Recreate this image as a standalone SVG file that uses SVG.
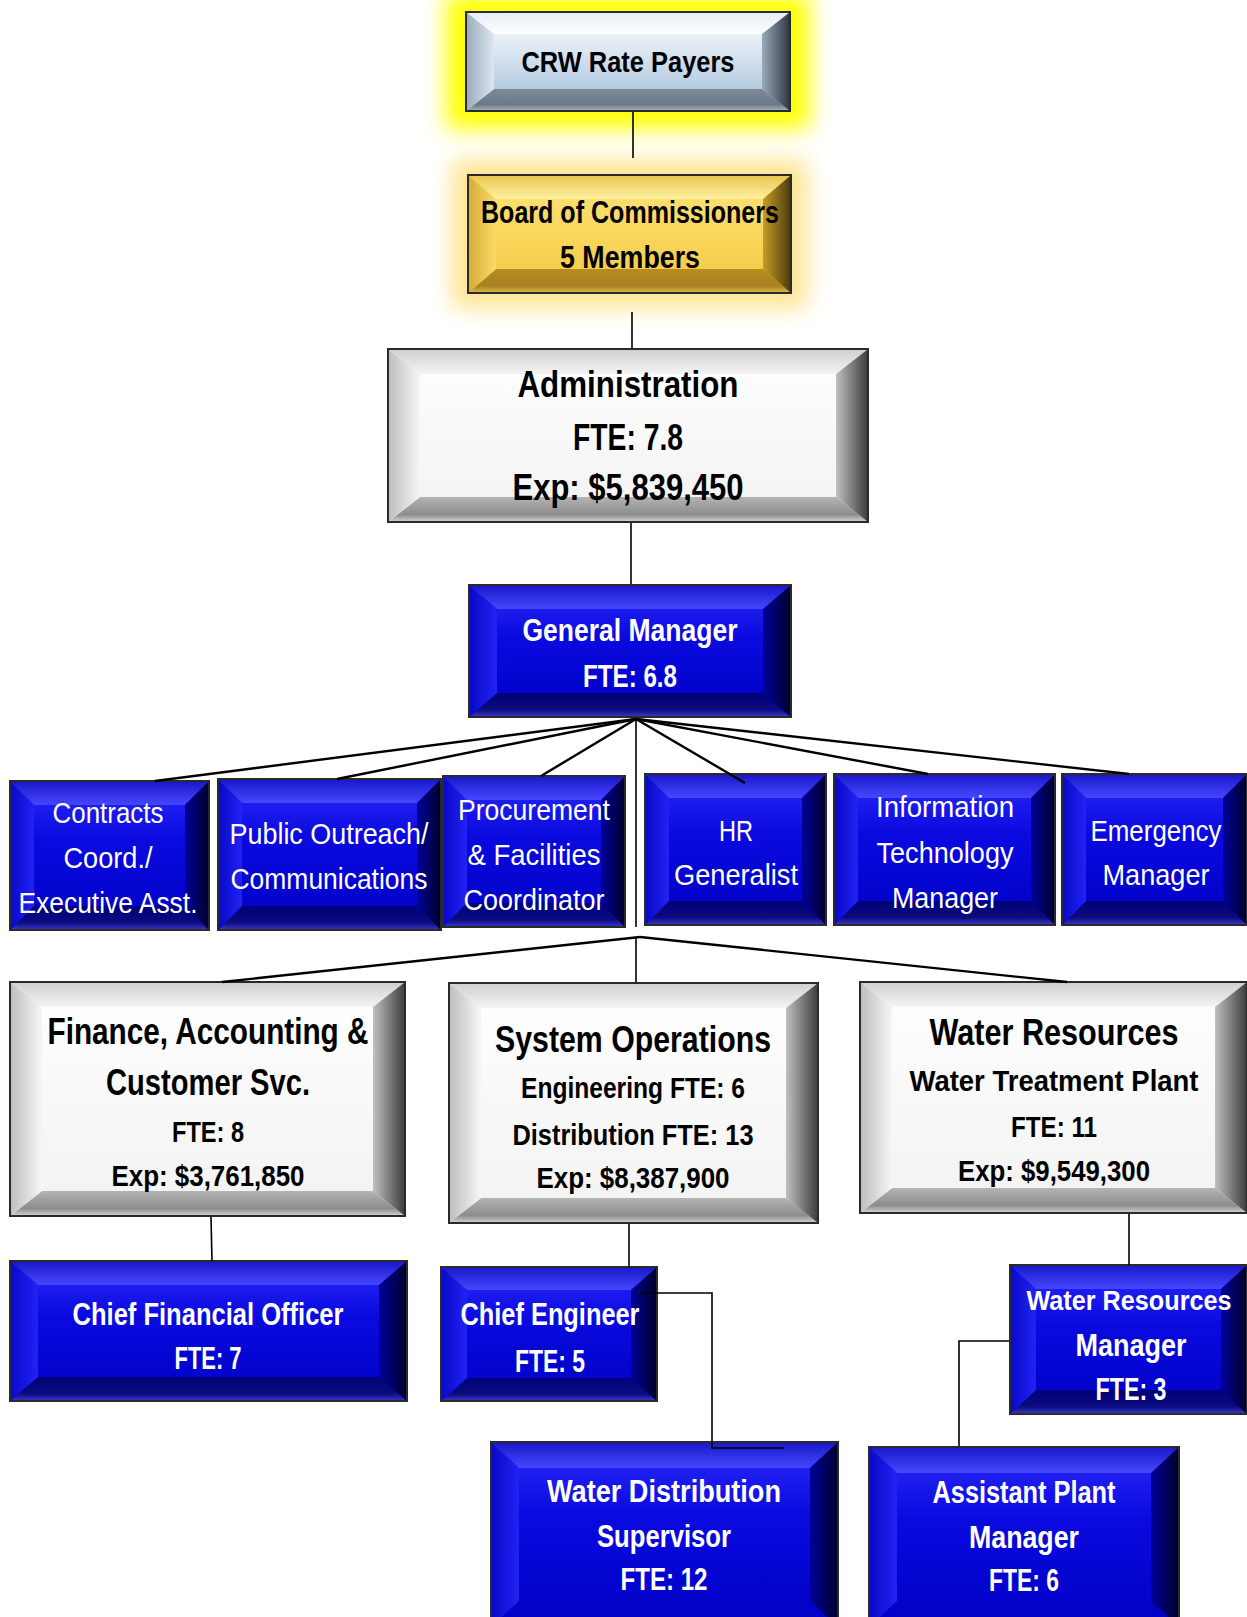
<svg xmlns="http://www.w3.org/2000/svg" width="1247" height="1617" viewBox="0 0 1247 1617">
<defs>
<style>
.t{font-family:"Liberation Sans",Arial,sans-serif;text-anchor:middle}
.b{font-weight:bold}
.w{fill:#fff}
.k{fill:#000}
.ol{stroke:#2a2a2a;stroke-width:2}
.ln{stroke:#000;stroke-width:1.6;fill:none}
.fan{stroke:#000;stroke-width:2.4;fill:none}
.bf{fill:url(#bFace)} .bt{fill:url(#bTop)} .bl{fill:url(#bLeft)} .br{fill:url(#bRight)} .bb{fill:url(#bBot)}
.gf{fill:url(#gFace)} .gt{fill:url(#gTop)} .gl{fill:url(#gLeft)} .gr{fill:url(#gRight)} .gb{fill:url(#gBot)}
.cf{fill:url(#cFace)} .ct{fill:url(#cTop)} .cl{fill:url(#cLeft)} .cr{fill:url(#cRight)} .cb{fill:url(#cBot)}
.yf{fill:url(#yFace)} .yt{fill:url(#yTop)} .yl{fill:url(#yLeft)} .yr{fill:url(#yRight)} .yb{fill:url(#yBot)}
</style>
<filter id="glow" x="-40%" y="-80%" width="180%" height="260%"><feGaussianBlur stdDeviation="11"/></filter>
<linearGradient id="bFace" x1="0" y1="0" x2="0" y2="1"><stop offset="0" stop-color="#2a2af8"/><stop offset="0.4" stop-color="#0a0ae0"/><stop offset="1" stop-color="#0000c4"/></linearGradient>
<linearGradient id="bTop" x1="0" y1="0" x2="0" y2="1"><stop offset="0" stop-color="#1818c8"/><stop offset="1" stop-color="#4646ff"/></linearGradient>
<linearGradient id="bLeft" x1="0" y1="0" x2="1" y2="0"><stop offset="0" stop-color="#0808c8"/><stop offset="1" stop-color="#2222f4"/></linearGradient>
<linearGradient id="bRight" x1="0" y1="0" x2="1" y2="0"><stop offset="0" stop-color="#00009a"/><stop offset="1" stop-color="#00002a"/></linearGradient>
<linearGradient id="bBot" x1="0" y1="0" x2="0" y2="1"><stop offset="0" stop-color="#000078"/><stop offset="0.7" stop-color="#0c0c80"/><stop offset="1" stop-color="#3a3ac8"/></linearGradient>
<linearGradient id="gFace" x1="0" y1="0" x2="0" y2="1"><stop offset="0" stop-color="#ffffff"/><stop offset="1" stop-color="#f2f2f2"/></linearGradient>
<linearGradient id="gTop" x1="0" y1="0" x2="0" y2="1"><stop offset="0" stop-color="#cfcfcf"/><stop offset="1" stop-color="#f4f4f4"/></linearGradient>
<linearGradient id="gLeft" x1="0" y1="0" x2="1" y2="0"><stop offset="0" stop-color="#bdbdbd"/><stop offset="1" stop-color="#f6f6f6"/></linearGradient>
<linearGradient id="gRight" x1="0" y1="0" x2="1" y2="0"><stop offset="0" stop-color="#c0c0c0"/><stop offset="1" stop-color="#3c3c3c"/></linearGradient>
<linearGradient id="gBot" x1="0" y1="0" x2="0" y2="1"><stop offset="0" stop-color="#b4b4b4"/><stop offset="0.7" stop-color="#8c8c8c"/><stop offset="1" stop-color="#d6d6d6"/></linearGradient>
<linearGradient id="cFace" x1="0" y1="0" x2="0" y2="1"><stop offset="0" stop-color="#ffffff"/><stop offset="0.35" stop-color="#dfe9f3"/><stop offset="0.7" stop-color="#bcd0e4"/><stop offset="1" stop-color="#a6b9cc"/></linearGradient>
<linearGradient id="cTop" x1="0" y1="0" x2="0" y2="1"><stop offset="0" stop-color="#e6ecf2"/><stop offset="1" stop-color="#ffffff"/></linearGradient>
<linearGradient id="cLeft" x1="0" y1="0" x2="1" y2="0"><stop offset="0" stop-color="#9aabbc"/><stop offset="1" stop-color="#dbe6f0"/></linearGradient>
<linearGradient id="cRight" x1="0" y1="0" x2="1" y2="0"><stop offset="0" stop-color="#9aaabb"/><stop offset="1" stop-color="#2e3640"/></linearGradient>
<linearGradient id="cBot" x1="0" y1="0" x2="0" y2="1"><stop offset="0" stop-color="#7c8a98"/><stop offset="0.7" stop-color="#6c7886"/><stop offset="1" stop-color="#a8b4c0"/></linearGradient>
<linearGradient id="yFace" x1="0" y1="0" x2="0" y2="1"><stop offset="0" stop-color="#ffe47a"/><stop offset="1" stop-color="#f2c840"/></linearGradient>
<linearGradient id="yTop" x1="0" y1="0" x2="0" y2="1"><stop offset="0" stop-color="#e8c450"/><stop offset="1" stop-color="#fff0a0"/></linearGradient>
<linearGradient id="yLeft" x1="0" y1="0" x2="1" y2="0"><stop offset="0" stop-color="#d4aa38"/><stop offset="1" stop-color="#fadc68"/></linearGradient>
<linearGradient id="yRight" x1="0" y1="0" x2="1" y2="0"><stop offset="0" stop-color="#c89c28"/><stop offset="1" stop-color="#4a3a0c"/></linearGradient>
<linearGradient id="yBot" x1="0" y1="0" x2="0" y2="1"><stop offset="0" stop-color="#b88c20"/><stop offset="0.7" stop-color="#a88020"/><stop offset="1" stop-color="#e0bc50"/></linearGradient>
</defs>
<rect width="1247" height="1617" fill="#fff"/>

<rect x="446" y="-6" width="364" height="135" fill="#ffff00" filter="url(#glow)"/>
<rect x="452" y="160" width="355" height="148" fill="#ffd860" opacity="0.7" filter="url(#glow)"/>

<g id="crw">
<rect class="cf" x="466" y="12" width="324" height="99"/>
<polygon class="ct" points="466,12 790,12 762,34 494,34"/>
<polygon class="cb" points="466,111 790,111 762,89 494,89"/>
<polygon class="cl" points="466,12 494,34 494,89 466,111"/>
<polygon class="cr" points="790,12 762,34 762,89 790,111"/>
<rect class="ol" x="466" y="12" width="324" height="99" fill="none"/>
<text class="t b k" x="628" y="72" font-size="30" textLength="213" lengthAdjust="spacingAndGlyphs">CRW Rate Payers</text>
</g>

<g id="board">
<rect class="yf" x="468" y="175" width="323" height="118"/>
<polygon class="yt" points="468,175 791,175 763,199 496,199"/>
<polygon class="yb" points="468,293 791,293 763,269 496,269"/>
<polygon class="yl" points="468,175 496,199 496,269 468,293"/>
<polygon class="yr" points="791,175 763,199 763,269 791,293"/>
<rect class="ol" x="468" y="175" width="323" height="118" fill="none"/>
<text class="t b k" x="630" y="223" font-size="31" textLength="298" lengthAdjust="spacingAndGlyphs">Board of Commissioners</text>
<text class="t b k" x="630" y="268" font-size="31" textLength="140" lengthAdjust="spacingAndGlyphs">5 Members</text>
</g>

<g id="admin">
<rect class="gf" x="388" y="349" width="480" height="173"/>
<polygon class="gt" points="388,349 868,349 836,374 420,374"/>
<polygon class="gb" points="388,522 868,522 836,497 420,497"/>
<polygon class="gl" points="388,349 420,374 420,497 388,522"/>
<polygon class="gr" points="868,349 836,374 836,497 868,522"/>
<rect class="ol" x="388" y="349" width="480" height="173" fill="none"/>
<text class="t b k" x="628" y="397" font-size="37" textLength="221" lengthAdjust="spacingAndGlyphs">Administration</text>
<text class="t b k" x="628" y="450" font-size="37" textLength="110" lengthAdjust="spacingAndGlyphs">FTE: 7.8</text>
<text class="t b k" x="628" y="500" font-size="37" textLength="231" lengthAdjust="spacingAndGlyphs">Exp: $5,839,450</text>
</g>

<g id="gm">
<rect class="bf" x="469" y="585" width="322" height="132"/>
<polygon class="bt" points="469,585 791,585 763,609 497,609"/>
<polygon class="bb" points="469,717 791,717 763,693 497,693"/>
<polygon class="bl" points="469,585 497,609 497,693 469,717"/>
<polygon class="br" points="791,585 763,609 763,693 791,717"/>
<rect class="ol" x="469" y="585" width="322" height="132" fill="none"/>
<text class="t b w" x="630" y="641" font-size="31" textLength="215" lengthAdjust="spacingAndGlyphs">General Manager</text>
<text class="t b w" x="630" y="687" font-size="31" textLength="94" lengthAdjust="spacingAndGlyphs">FTE: 6.8</text>
</g>

<g id="contracts">
<rect class="bf" x="10" y="781" width="199" height="149"/>
<polygon class="bt" points="10,781 209,781 185,805 34,805"/>
<polygon class="bb" points="10,930 209,930 185,906 34,906"/>
<polygon class="bl" points="10,781 34,805 34,906 10,930"/>
<polygon class="br" points="209,781 185,805 185,906 209,930"/>
<rect class="ol" x="10" y="781" width="199" height="149" fill="none"/>
<text class="t w" x="108" y="823" font-size="30" textLength="111" lengthAdjust="spacingAndGlyphs">Contracts</text>
<text class="t w" x="108" y="868" font-size="30" textLength="89" lengthAdjust="spacingAndGlyphs">Coord./</text>
<text class="t w" x="108" y="913" font-size="30" textLength="179" lengthAdjust="spacingAndGlyphs">Executive Asst.</text>
</g>

<g id="outreach">
<rect class="bf" x="218" y="779" width="223" height="151"/>
<polygon class="bt" points="218,779 441,779 417,803 242,803"/>
<polygon class="bb" points="218,930 441,930 417,906 242,906"/>
<polygon class="bl" points="218,779 242,803 242,906 218,930"/>
<polygon class="br" points="441,779 417,803 417,906 441,930"/>
<rect class="ol" x="218" y="779" width="223" height="151" fill="none"/>
<text class="t w" x="329" y="844" font-size="30" textLength="199" lengthAdjust="spacingAndGlyphs">Public Outreach/</text>
<text class="t w" x="329" y="889" font-size="30" textLength="197" lengthAdjust="spacingAndGlyphs">Communications</text>
</g>

<g id="procurement">
<rect class="bf" x="443" y="776" width="182" height="151"/>
<polygon class="bt" points="443,776 625,776 601,800 467,800"/>
<polygon class="bb" points="443,927 625,927 601,903 467,903"/>
<polygon class="bl" points="443,776 467,800 467,903 443,927"/>
<polygon class="br" points="625,776 601,800 601,903 625,927"/>
<rect class="ol" x="443" y="776" width="182" height="151" fill="none"/>
<text class="t w" x="534" y="820" font-size="30" textLength="152" lengthAdjust="spacingAndGlyphs">Procurement</text>
<text class="t w" x="534" y="865" font-size="30" textLength="133" lengthAdjust="spacingAndGlyphs">&amp; Facilities</text>
<text class="t w" x="534" y="910" font-size="30" textLength="141" lengthAdjust="spacingAndGlyphs">Coordinator</text>
</g>

<g id="hr">
<rect class="bf" x="645" y="774" width="181" height="151"/>
<polygon class="bt" points="645,774 826,774 802,798 669,798"/>
<polygon class="bb" points="645,925 826,925 802,901 669,901"/>
<polygon class="bl" points="645,774 669,798 669,901 645,925"/>
<polygon class="br" points="826,774 802,798 802,901 826,925"/>
<rect class="ol" x="645" y="774" width="181" height="151" fill="none"/>
<text class="t w" x="736" y="841" font-size="30" textLength="34" lengthAdjust="spacingAndGlyphs">HR</text>
<text class="t w" x="736" y="885" font-size="30" textLength="124" lengthAdjust="spacingAndGlyphs">Generalist</text>
</g>

<g id="it">
<rect class="bf" x="834" y="774" width="221" height="151"/>
<polygon class="bt" points="834,774 1055,774 1031,798 858,798"/>
<polygon class="bb" points="834,925 1055,925 1031,901 858,901"/>
<polygon class="bl" points="834,774 858,798 858,901 834,925"/>
<polygon class="br" points="1055,774 1031,798 1031,901 1055,925"/>
<rect class="ol" x="834" y="774" width="221" height="151" fill="none"/>
<text class="t w" x="945" y="817" font-size="30" textLength="138" lengthAdjust="spacingAndGlyphs">Information</text>
<text class="t w" x="945" y="863" font-size="30" textLength="137" lengthAdjust="spacingAndGlyphs">Technology</text>
<text class="t w" x="945" y="908" font-size="30" textLength="106" lengthAdjust="spacingAndGlyphs">Manager</text>
</g>

<g id="emergency">
<rect class="bf" x="1062" y="774" width="185" height="151"/>
<polygon class="bt" points="1062,774 1247,774 1223,798 1086,798"/>
<polygon class="bb" points="1062,925 1247,925 1223,901 1086,901"/>
<polygon class="bl" points="1062,774 1086,798 1086,901 1062,925"/>
<polygon class="br" points="1247,774 1223,798 1223,901 1247,925"/>
<rect class="ol" x="1062" y="774" width="185" height="151" fill="none"/>
<text class="t w" x="1156" y="841" font-size="30" textLength="131" lengthAdjust="spacingAndGlyphs">Emergency</text>
<text class="t w" x="1156" y="885" font-size="30" textLength="107" lengthAdjust="spacingAndGlyphs">Manager</text>
</g>

<g id="finance">
<rect class="gf" x="10" y="982" width="395" height="234"/>
<polygon class="gt" points="10,982 405,982 373,1007 42,1007"/>
<polygon class="gb" points="10,1216 405,1216 373,1191 42,1191"/>
<polygon class="gl" points="10,982 42,1007 42,1191 10,1216"/>
<polygon class="gr" points="405,982 373,1007 373,1191 405,1216"/>
<rect class="ol" x="10" y="982" width="395" height="234" fill="none"/>
<text class="t b k" x="208" y="1044" font-size="37" textLength="321" lengthAdjust="spacingAndGlyphs">Finance, Accounting &amp;</text>
<text class="t b k" x="208" y="1095" font-size="37" textLength="204" lengthAdjust="spacingAndGlyphs">Customer Svc.</text>
<text class="t b k" x="208" y="1142" font-size="29" textLength="72" lengthAdjust="spacingAndGlyphs">FTE: 8</text>
<text class="t b k" x="208" y="1186" font-size="29" textLength="193" lengthAdjust="spacingAndGlyphs">Exp: $3,761,850</text>
</g>

<g id="sysops">
<rect class="gf" x="449" y="983" width="369" height="240"/>
<polygon class="gt" points="449,983 818,983 786,1008 481,1008"/>
<polygon class="gb" points="449,1223 818,1223 786,1198 481,1198"/>
<polygon class="gl" points="449,983 481,1008 481,1198 449,1223"/>
<polygon class="gr" points="818,983 786,1008 786,1198 818,1223"/>
<rect class="ol" x="449" y="983" width="369" height="240" fill="none"/>
<text class="t b k" x="633" y="1052" font-size="37" textLength="276" lengthAdjust="spacingAndGlyphs">System Operations</text>
<text class="t b k" x="633" y="1098" font-size="29" textLength="224" lengthAdjust="spacingAndGlyphs">Engineering FTE: 6</text>
<text class="t b k" x="633" y="1145" font-size="29" textLength="241" lengthAdjust="spacingAndGlyphs">Distribution FTE: 13</text>
<text class="t b k" x="633" y="1188" font-size="29" textLength="193" lengthAdjust="spacingAndGlyphs">Exp: $8,387,900</text>
</g>

<g id="waterres">
<rect class="gf" x="860" y="982" width="387" height="231"/>
<polygon class="gt" points="860,982 1247,982 1215,1007 892,1007"/>
<polygon class="gb" points="860,1213 1247,1213 1215,1188 892,1188"/>
<polygon class="gl" points="860,982 892,1007 892,1188 860,1213"/>
<polygon class="gr" points="1247,982 1215,1007 1215,1188 1247,1213"/>
<rect class="ol" x="860" y="982" width="387" height="231" fill="none"/>
<text class="t b k" x="1054" y="1045" font-size="37" textLength="249" lengthAdjust="spacingAndGlyphs">Water Resources</text>
<text class="t b k" x="1054" y="1091" font-size="29" textLength="289" lengthAdjust="spacingAndGlyphs">Water Treatment Plant</text>
<text class="t b k" x="1054" y="1137" font-size="29" textLength="86" lengthAdjust="spacingAndGlyphs">FTE: 11</text>
<text class="t b k" x="1054" y="1181" font-size="29" textLength="192" lengthAdjust="spacingAndGlyphs">Exp: $9,549,300</text>
</g>

<g id="cfo">
<rect class="bf" x="10" y="1261" width="397" height="140"/>
<polygon class="bt" points="10,1261 407,1261 379,1285 38,1285"/>
<polygon class="bb" points="10,1401 407,1401 379,1377 38,1377"/>
<polygon class="bl" points="10,1261 38,1285 38,1377 10,1401"/>
<polygon class="br" points="407,1261 379,1285 379,1377 407,1401"/>
<rect class="ol" x="10" y="1261" width="397" height="140" fill="none"/>
<text class="t b w" x="208" y="1325" font-size="31" textLength="271" lengthAdjust="spacingAndGlyphs">Chief Financial Officer</text>
<text class="t b w" x="208" y="1369" font-size="31" textLength="67" lengthAdjust="spacingAndGlyphs">FTE: 7</text>
</g>

<g id="chiefeng">
<rect class="bf" x="441" y="1267" width="216" height="134"/>
<polygon class="bt" points="441,1267 657,1267 631,1290 467,1290"/>
<polygon class="bb" points="441,1401 657,1401 631,1378 467,1378"/>
<polygon class="bl" points="441,1267 467,1290 467,1378 441,1401"/>
<polygon class="br" points="657,1267 631,1290 631,1378 657,1401"/>
<rect class="ol" x="441" y="1267" width="216" height="134" fill="none"/>
<text class="t b w" x="550" y="1325" font-size="31" textLength="179" lengthAdjust="spacingAndGlyphs">Chief Engineer</text>
<text class="t b w" x="550" y="1372" font-size="31" textLength="70" lengthAdjust="spacingAndGlyphs">FTE: 5</text>
</g>

<g id="wrm">
<rect class="bf" x="1010" y="1265" width="237" height="149"/>
<polygon class="bt" points="1010,1265 1247,1265 1221,1289 1036,1289"/>
<polygon class="bb" points="1010,1414 1247,1414 1221,1390 1036,1390"/>
<polygon class="bl" points="1010,1265 1036,1289 1036,1390 1010,1414"/>
<polygon class="br" points="1247,1265 1221,1289 1221,1390 1247,1414"/>
<rect class="ol" x="1010" y="1265" width="237" height="149" fill="none"/>
<text class="t b w" x="1129" y="1310" font-size="28.5" textLength="205" lengthAdjust="spacingAndGlyphs">Water Resources</text>
<text class="t b w" x="1131" y="1356" font-size="31" textLength="111" lengthAdjust="spacingAndGlyphs">Manager</text>
<text class="t b w" x="1131" y="1400" font-size="31" textLength="71" lengthAdjust="spacingAndGlyphs">FTE: 3</text>
</g>

<g id="wds">
<rect class="bf" x="491" y="1442" width="347" height="185"/>
<polygon class="bt" points="491,1442 838,1442 810,1468 519,1468"/>
<polygon class="bl" points="491,1442 519,1468 519,1601 491,1627"/>
<polygon class="br" points="838,1442 810,1468 810,1601 838,1627"/>
<rect class="ol" x="491" y="1442" width="347" height="185" fill="none"/>
<text class="t b w" x="664" y="1502" font-size="31" textLength="234" lengthAdjust="spacingAndGlyphs">Water Distribution</text>
<text class="t b w" x="664" y="1547" font-size="31" textLength="134" lengthAdjust="spacingAndGlyphs">Supervisor</text>
<text class="t b w" x="664" y="1590" font-size="31" textLength="87" lengthAdjust="spacingAndGlyphs">FTE: 12</text>
</g>

<g id="apm">
<rect class="bf" x="869" y="1447" width="310" height="180"/>
<polygon class="bt" points="869,1447 1179,1447 1151,1473 897,1473"/>
<polygon class="bl" points="869,1447 897,1473 897,1601 869,1627"/>
<polygon class="br" points="1179,1447 1151,1473 1151,1601 1179,1627"/>
<rect class="ol" x="869" y="1447" width="310" height="180" fill="none"/>
<text class="t b w" x="1024" y="1503" font-size="31" textLength="183" lengthAdjust="spacingAndGlyphs">Assistant Plant</text>
<text class="t b w" x="1024" y="1548" font-size="31" textLength="110" lengthAdjust="spacingAndGlyphs">Manager</text>
<text class="t b w" x="1024" y="1591" font-size="31" textLength="70" lengthAdjust="spacingAndGlyphs">FTE: 6</text>
</g>

<g id="connectors">
<line class="ln" x1="633" y1="112" x2="633" y2="158"/>
<line class="ln" x1="632" y1="312" x2="632" y2="348"/>
<line class="ln" x1="631" y1="523" x2="631" y2="584"/>
<line class="fan" x1="636" y1="719" x2="155" y2="781"/>
<line class="fan" x1="636" y1="719" x2="337" y2="779"/>
<line class="fan" x1="636" y1="719" x2="541" y2="776"/>
<line class="fan" x1="636" y1="719" x2="745" y2="783"/>
<line class="fan" x1="636" y1="719" x2="928" y2="774"/>
<line class="fan" x1="636" y1="719" x2="1129" y2="774"/>
<line class="ln" x1="636" y1="719" x2="636" y2="927"/>
<line class="ln" x1="636" y1="937" x2="636" y2="982"/>
<line class="fan" x1="640" y1="937" x2="222" y2="982"/>
<line class="fan" x1="640" y1="937" x2="1067" y2="982"/>
<line class="ln" x1="211" y1="1217" x2="212" y2="1261"/>
<line class="ln" x1="629" y1="1224" x2="629" y2="1267"/>
<line class="ln" x1="1129" y1="1214" x2="1129" y2="1265"/>
<polyline class="ln" points="640,1293 712,1293 712,1448 784,1448"/>
<polyline class="ln" points="1009,1341 959,1341 959,1446"/>
</g>
</svg>
